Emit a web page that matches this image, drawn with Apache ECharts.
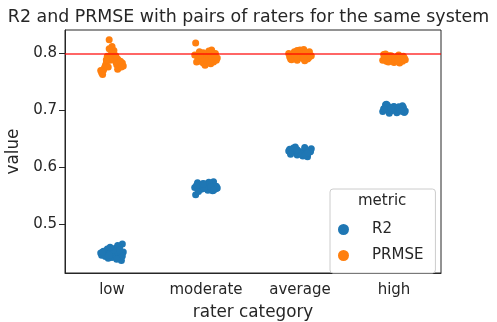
<!DOCTYPE html>
<html>
<head>
<meta charset="utf-8">
<script src="https://cdn.jsdelivr.net/npm/echarts@6/dist/echarts.min.js"></script>
<style>html,body{margin:0;padding:0;background:#fff}#c{width:497px;height:322px}</style>
</head>
<body>
<div id="c"></div>
<script>
const categories = ['low', 'moderate', 'average', 'high'];
const seriesNames = ['R2', 'PRMSE'];
const yTicks = [0.5, 0.6, 0.7, 0.8];
const refLine = 0.797;

// stripplot jitter (in category units)
const jitterR2 = [-0.10, 0.05, -0.03, 0.11, -0.07, 0.02, 0.08, -0.12, 0.00, -0.05, 0.10, 0.04, -0.09, 0.07, -0.01, -0.11, 0.03, 0.09, -0.06, 0.01, 0.12, -0.04, 0.06, -0.08, -0.02, 0.11, 0.05, -0.10, 0.08, -0.03];
const jitterPRMSE = [0.02, -0.08, 0.10, -0.03, 0.06, -0.11, 0.00, 0.08, -0.05, 0.12, -0.01, 0.04, -0.09, 0.07, -0.06, 0.03, 0.11, -0.12, 0.05, -0.02, 0.09, -0.07, 0.01, -0.04, 0.06, -0.10, 0.10, -0.03, 0.04, -0.06];

const r2Low = [0.448, 0.452, 0.455, 0.466, 0.444, 0.447, 0.460, 0.450, 0.442, 0.457, 0.437, 0.445, 0.453, 0.449, 0.451, 0.446, 0.458, 0.442, 0.449, 0.455, 0.452, 0.441, 0.463, 0.447, 0.460, 0.445, 0.439, 0.452, 0.455, 0.446];
const r2Moderate = [0.566, 0.570, 0.572, 0.563, 0.568, 0.560, 0.575, 0.565, 0.571, 0.562, 0.564, 0.569, 0.573, 0.559, 0.567, 0.552, 0.574, 0.562, 0.566, 0.570, 0.564, 0.568, 0.561, 0.558, 0.563, 0.567, 0.566, 0.569, 0.560, 0.571];
const r2Average = [0.626, 0.631, 0.622, 0.628, 0.634, 0.624, 0.619, 0.629, 0.625, 0.636, 0.627, 0.621, 0.630, 0.623, 0.628, 0.632, 0.620, 0.626, 0.629, 0.624, 0.633, 0.627, 0.622, 0.630, 0.625, 0.628, 0.635, 0.623, 0.626, 0.631];
const r2High = [0.703, 0.706, 0.700, 0.697, 0.709, 0.704, 0.701, 0.698, 0.707, 0.695, 0.705, 0.702, 0.710, 0.699, 0.706, 0.703, 0.696, 0.708, 0.701, 0.704, 0.699, 0.705, 0.702, 0.711, 0.700, 0.697, 0.706, 0.703, 0.699, 0.704];

const prmseLow = [0.805, 0.775, 0.782, 0.824, 0.790, 0.766, 0.812, 0.779, 0.795, 0.778, 0.798, 0.785, 0.771, 0.775, 0.784, 0.793, 0.783, 0.770, 0.780, 0.788, 0.786, 0.779, 0.800, 0.776, 0.772, 0.763, 0.776, 0.808, 0.796, 0.789];
const prmseModerate = [0.795, 0.789, 0.800, 0.783, 0.806, 0.818, 0.790, 0.785, 0.800, 0.792, 0.779, 0.798, 0.794, 0.792, 0.786, 0.804, 0.788, 0.797, 0.782, 0.796, 0.797, 0.803, 0.787, 0.792, 0.790, 0.785, 0.794, 0.801, 0.784, 0.797];
const prmseAverage = [0.797, 0.792, 0.803, 0.788, 0.799, 0.794, 0.806, 0.790, 0.801, 0.796, 0.793, 0.807, 0.789, 0.798, 0.803, 0.791, 0.795, 0.800, 0.787, 0.804, 0.792, 0.797, 0.799, 0.794, 0.802, 0.790, 0.796, 0.805, 0.793, 0.798];
const prmseHigh = [0.790, 0.786, 0.795, 0.792, 0.788, 0.798, 0.784, 0.791, 0.796, 0.789, 0.793, 0.787, 0.799, 0.790, 0.785, 0.794, 0.792, 0.788, 0.797, 0.791, 0.786, 0.793, 0.789, 0.795, 0.783, 0.792, 0.790, 0.796, 0.787, 0.794];

const r2Groups = [r2Low, r2Moderate, r2Average, r2High];
const prmseGroups = [prmseLow, prmseModerate, prmseAverage, prmseHigh];

function build(groups, jitter) {
  const out = [];
  groups.forEach((vals, ci) => {
    vals.forEach((v, i) => out.push([ci + jitter[i % jitter.length], v]));
  });
  return out;
}

const FONT = 'DejaVu Sans';
const INK = '#262626';
const chart = echarts.init(document.getElementById('c'), null, {renderer: 'canvas'});
chart.setOption({
  animation: false,
  textStyle: {fontFamily: FONT},
  title: {
    text: 'R2 and PRMSE with pairs of raters for the same system',
    left: 'center', top: 4,
    textStyle: {fontFamily: FONT, fontSize: 17.4, fontWeight: 'normal', color: INK}
  },
  grid: {left: 65, right: 56, top: 30, bottom: 49, show: true, borderColor: INK, borderWidth: 1, backgroundColor: 'transparent', containLabel: false, outerBoundsMode: 'none'},
  xAxis: [{
    type: 'category', data: categories, boundaryGap: true,
    name: 'rater category', nameLocation: 'middle', nameGap: 31,
    nameTextStyle: {fontFamily: FONT, fontSize: 16.8, color: INK},
    axisLine: {lineStyle: {color: INK, width: 1}},
    axisTick: {alignWithLabel: true, length: 6, lineStyle: {color: INK}},
    axisLabel: {fontFamily: FONT, fontSize: 15, color: INK, margin: 10, interval: 0, hideOverlap: false},
    splitLine: {show: false}
  }, {
    type: 'value', min: -0.5, max: 3.5, show: false
  }],
  yAxis: {
    type: 'value', min: 0.415, max: 0.841,
    name: 'value', nameLocation: 'middle', nameGap: 42,
    nameTextStyle: {fontFamily: FONT, fontSize: 16.8, color: INK},
    axisLine: {show: true, onZero: false, lineStyle: {color: INK, width: 1}},
    axisTick: {show: true, length: 6, lineStyle: {color: INK}, customValues: yTicks},
    axisLabel: {fontFamily: FONT, fontSize: 15, color: INK, margin: 8, customValues: yTicks, formatter: v => v.toFixed(1)},
    splitLine: {show: false}
  },
  legend: {
    data: seriesNames.map(n => ({name: n, icon: 'circle'})),
    orient: 'vertical', left: 330, top: 189,
    padding: [33, 12, 10, 8],
    itemWidth: 11, itemHeight: 11, itemGap: 11,
    borderColor: '#cccccc', borderWidth: 1, borderRadius: 3, backgroundColor: '#ffffff',
    textStyle: {fontFamily: FONT, fontSize: 15, color: INK, padding: [0, 0, 0, 18]}
  },
  graphic: [{
    type: 'text', left: 358, top: 194, z: 100,
    style: {text: 'metric', font: '15px "DejaVu Sans"', fill: INK}
  }],
  series: [{
    name: 'ref', type: 'line', xAxisIndex: 1, data: [], z: 1,
    markLine: {
      silent: true, symbol: 'none', label: {show: false},
      lineStyle: {color: '#ff0000', width: 1.6, type: 'solid', opacity: 0.8},
      data: [{yAxis: refLine}]
    }
  }, {
    name: 'R2', type: 'scatter', xAxisIndex: 1, z: 3,
    symbolSize: 7, itemStyle: {color: '#1f77b4', opacity: 1},
    data: build(r2Groups, jitterR2)
  }, {
    name: 'PRMSE', type: 'scatter', xAxisIndex: 1, z: 3,
    symbolSize: 7, itemStyle: {color: '#ff7f0e', opacity: 1},
    data: build(prmseGroups, jitterPRMSE)
  }]
});
</script>
</body>
</html>
